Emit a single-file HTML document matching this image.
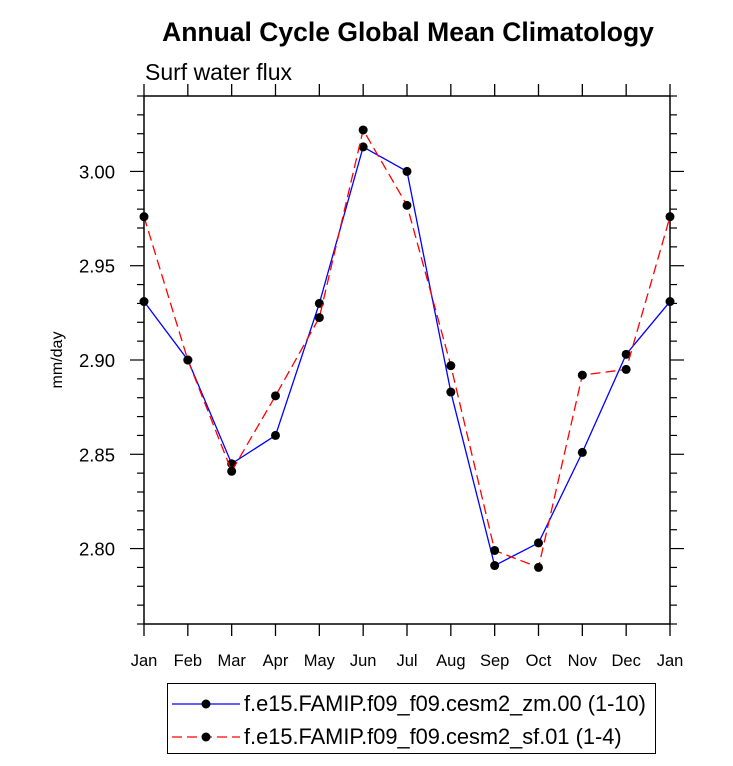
<!DOCTYPE html>
<html><head><meta charset="utf-8"><style>
body{margin:0;background:#fff;width:733px;height:761px;overflow:hidden}
svg{font-family:"Liberation Sans",sans-serif}
</style></head><body>
<svg id="c" width="733" height="761">
<text x="408" y="41" font-size="26.5" font-weight="bold" text-anchor="middle">Annual Cycle Global Mean Climatology</text>
<text x="145" y="80" font-size="23">Surf water flux</text>
<text transform="translate(62,360) rotate(-90)" font-size="16" text-anchor="middle">mm/day</text>
<g id="axes"></g><g id="series"></g>
<g>
<rect x="167.5" y="683.5" width="488" height="70" fill="none" stroke="#000"/>
<g>
<line x1="172" y1="704" x2="240" y2="704" stroke="#0000ff" stroke-width="1.3"/>
<circle cx="206" cy="704" r="4.5" fill="#000"/>
<text x="244" y="711" font-size="21.8">f.e15.FAMIP.f09_f09.cesm2_zm.00 (1-10)</text></g>
<g>
<line x1="172" y1="737" x2="240" y2="737" stroke="#ff0000" stroke-width="1.3" stroke-dasharray="10,5"/>
<circle cx="206" cy="737" r="4.5" fill="#000"/>
<text x="244" y="744" font-size="21.8">f.e15.FAMIP.f09_f09.cesm2_sf.01 (1-4)</text></g>
</g>
</svg>
<script>
const months=["Jan","Feb","Mar","Apr","May","Jun","Jul","Aug","Sep","Oct","Nov","Dec","Jan"];
const blueValues=[2.931,2.900,2.845,2.860,2.930,3.013,3.000,2.883,2.791,2.803,2.851,2.903,2.931];
const redValues=[2.976,2.900,2.841,2.881,2.9225,3.022,2.982,2.897,2.799,2.790,2.892,2.895,2.976];
const yTicks=[2.80,2.85,2.90,2.95,3.00];
const yTickLabels=["2.80","2.85","2.90","2.95","3.00"];
const L=144,R=670,T=96,B=624,y0=2.76,y1=3.04;
const X=i=>L+(R-L)*i/(months.length-1);
const Y=v=>B-(v-y0)/(y1-y0)*(B-T);
const NS="http://www.w3.org/2000/svg";
function mk(p,t,a){const e=document.createElementNS(NS,t);for(const k in a)e.setAttribute(k,a[k]);p.appendChild(e);return e;}
const ax=document.getElementById('axes');
const f=mk(ax,'rect',{x:L,y:T,width:R-L,height:B-T,fill:'none',stroke:'#000','stroke-width':1.5});


months.forEach((m,i)=>{const x=X(i);
mk(ax,'line',{x1:x,y1:B,x2:x,y2:B+12,stroke:'#000','stroke-width':1.3});
mk(ax,'line',{x1:x,y1:T,x2:x,y2:T-12,stroke:'#000','stroke-width':1.3});
const t=mk(ax,'text',{x:x,y:B+42,'font-size':16.5,'text-anchor':'middle'});t.textContent=m;

});
for(let k=0;k<=28;k++){const v=y0+k*0.01;const y=Y(v);const major=Math.abs(((v-2.80)/0.05)-Math.round((v-2.80)/0.05))<1e-6;const len=major?14:7;
mk(ax,'line',{x1:L-len,y1:y,x2:L,y2:y,stroke:'#000','stroke-width':1.2});
mk(ax,'line',{x1:R,y1:y,x2:R+len,y2:y,stroke:'#000','stroke-width':1.2});}
yTicks.forEach((v,i)=>{const t=mk(ax,'text',{x:L-29,y:Y(v)+7,'font-size':18.5,'text-anchor':'end'});t.textContent=yTickLabels[i];

});
const s=document.getElementById('series');
function draw(vals,color,dash,name){
const p=mk(s,'polyline',{points:vals.map((v,i)=>X(i)+','+Y(v)).join(' '),fill:'none',stroke:color,'stroke-width':1.3});
if(dash)p.setAttribute('stroke-dasharray',dash);


vals.forEach((v,i)=>{const c=mk(s,'circle',{cx:X(i),cy:Y(v),r:4.5,fill:'#000'});

});}
draw(blueValues,'#0000ff',null,'zm00');
draw(redValues,'#ff0000','10,5','sf01');
</script>
</body></html>
